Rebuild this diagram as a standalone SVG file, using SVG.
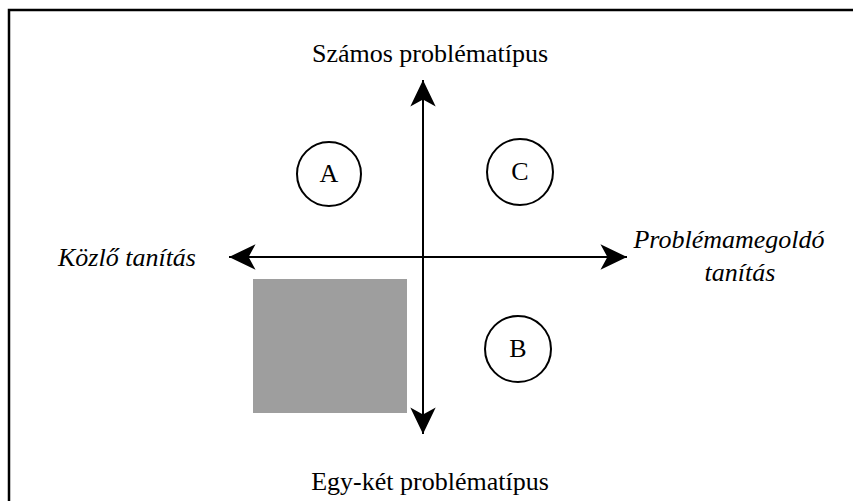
<svg xmlns="http://www.w3.org/2000/svg" width="853" height="501" viewBox="0 0 853 501">
<style>
.lbl{font-family:"Liberation Serif","Times New Roman",serif;font-size:26px;fill:#000}
.it{font-style:italic}
.ax{stroke:#000;stroke-width:2;fill:none}
.node{fill:#fff;stroke:#000;stroke-width:2}
</style>
<defs>
<marker id="ah" markerUnits="userSpaceOnUse" markerWidth="30" markerHeight="30" viewBox="-24 -12 26 24" refX="0" refY="0" orient="auto-start-reverse">
<path d="M0,0 L-23,-11 L-17,0 L-23,11 Z" fill="#000"/>
</marker>
</defs>
<rect width="853" height="501" fill="#fff"/>
<path d="M9,501 V10 H853" stroke="#000" stroke-width="2.5" fill="none"/>
<rect id="shade" x="253" y="279" width="154" height="134" fill="#9e9e9e"/>
<g id="connectors">
<line class="ax" x1="423" y1="434" x2="423" y2="80" marker-start="url(#ah)" marker-end="url(#ah)"/>
<line class="ax" x1="229" y1="257" x2="627" y2="257" marker-start="url(#ah)" marker-end="url(#ah)"/>
</g>
<g id="top"><text class="lbl" x="430" y="62" text-anchor="middle">Számos problématípus</text></g>
<g id="bottom"><text class="lbl" x="430" y="490" text-anchor="middle">Egy-két problématípus</text></g>
<g id="left"><text class="lbl it" x="196" y="266" text-anchor="end">Közlő tanítás</text></g>
<g id="right"><text class="lbl it" x="729" y="248" text-anchor="middle" font-size="24">Problémamegoldó</text><text class="lbl it" x="740" y="281" text-anchor="middle" font-size="24">tanítás</text></g>
<g id="A"><circle class="node" cx="329" cy="174" r="32"/><text class="lbl" x="329" y="182" text-anchor="middle" font-size="22">A</text></g>
<g id="C"><circle class="node" cx="520" cy="172" r="33"/><text class="lbl" x="520" y="180" text-anchor="middle" font-size="22">C</text></g>
<g id="B"><circle class="node" cx="518" cy="349" r="33"/><text class="lbl" x="518" y="357" text-anchor="middle" font-size="22">B</text></g>
</svg>
